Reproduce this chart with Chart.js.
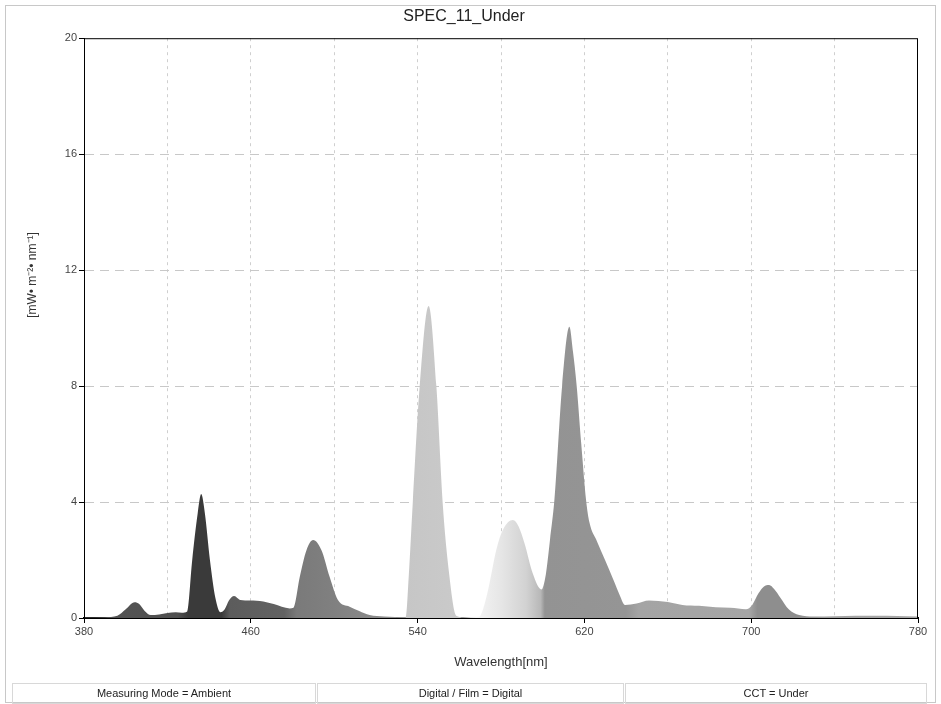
<!DOCTYPE html>
<html>
<head>
<meta charset="utf-8">
<script src="https://cdn.jsdelivr.net/npm/chart.js@4.4.1/dist/chart.umd.min.js"></script>
<style>
  body { margin: 0; background: #fff; }
  #wrap { position: relative; width: 941px; height: 704px; }
  .foot {
    position: absolute; top: 683px; height: 19px;
    font: 11px "Liberation Sans", Arial, sans-serif; line-height: 19px;
    border: 1px solid #d8d8d8; text-align: center; color: #222;
  }
</style>
</head>
<body>
<div id="wrap">
  <canvas id="spectrum" width="941" height="704"></canvas>
  <div class="foot" style="left:12px;width:302px">Measuring Mode = Ambient</div>
  <div class="foot" style="left:317px;width:305px">Digital / Film = Digital</div>
  <div class="foot" style="left:625px;width:300px">CCT = Under</div>
</div>
<script>
// spectrum (wavelength nm, irradiance mW/m2/nm)
const wavelengths = [380, 390, 396, 400, 404.3, 406.5, 409, 412, 416, 420, 424, 427, 429.5, 431.9, 434.5, 436.2, 438, 440.4, 443, 445.5,
  447.5, 449.5, 452, 455, 459.5, 466, 471, 478.7, 480.5, 483.5, 486.7, 489.9, 493.9, 497.8, 501.8, 507.4, 512, 517, 524, 534.3,
  535.8, 537.7, 541, 545.3, 549, 552, 555, 558.5, 562, 569.5, 572, 574.5, 577.7, 581, 585.7, 588.5, 591.3, 595.2, 599.4, 601.5,
  603.5, 605.6, 609.3, 612.8, 614.5, 616.3, 618.5, 620.8, 622.4, 626, 630, 634, 637, 639.5, 645, 651, 660, 667, 675, 683,
  690, 697.5, 700.5, 703.5, 706, 708.6, 711, 714, 718, 723, 730, 740, 750, 760, 770, 780];
const irradiance = [0.02, 0.03, 0.08, 0.3, 0.54, 0.48, 0.25, 0.1, 0.12, 0.17, 0.2, 0.18, 0.22, 2.0, 3.6, 4.28, 3.6, 2.0, 0.7, 0.2,
  0.3, 0.6, 0.76, 0.62, 0.6, 0.57, 0.48, 0.33, 0.35, 1.42, 2.34, 2.69, 2.34, 1.42, 0.62, 0.39, 0.24, 0.1, 0.05, 0.03,
  1.5, 4.0, 8.0, 10.76, 8.0, 4.0, 1.6, 0.08, 0.03, 0.04, 0.45, 1.2, 2.34, 3.05, 3.38, 3.15, 2.57, 1.54, 0.98, 1.5,
  2.7, 4.07, 8.0, 10.05, 9.2, 8.0, 6.0, 4.07, 3.3, 2.65, 1.98, 1.3, 0.78, 0.45, 0.5, 0.6, 0.55, 0.45, 0.42, 0.37,
  0.35, 0.3, 0.45, 0.85, 1.08, 1.14, 1.0, 0.7, 0.3, 0.1, 0.05, 0.06, 0.08, 0.08, 0.07, 0.05];

const xTickLabels = [380, 460, 540, 620, 700, 780];
const yTickLabels = [0, 4, 8, 12, 16, 20];

// grey shade of the fill along the wavelength axis
const shadeNm = [380, 425, 430, 446, 450, 476, 482, 500, 530, 534, 560, 568, 580, 592, 599, 601, 640, 646, 699, 703, 722, 735, 780];
const shadeGrey = ['#555555', '#505050', '#3a3a3a', '#3a3a3a', '#5c5c5c', '#626262', '#7a7a7a', '#808080', '#909090', '#c6c6c6',
  '#cacaca', '#f4f4f4', '#e6e6e6', '#d2d2d2', '#b8b8b8', '#939393', '#959595', '#a4a4a4', '#a6a6a6', '#8e8e8e', '#8e8e8e', '#a2a2a2', '#a8a8a8'];

const points = wavelengths.map((w, i) => ({ x: w, y: irradiance[i] }));

function spectrumFill(context) {
    const chart = context.chart;
    if (!chart.chartArea) return '#888';
    const x = chart.scales.x;
    const x0 = x.getPixelForValue(380), x1 = x.getPixelForValue(780);
    const g = chart.ctx.createLinearGradient(x0, 0, x1, 0);
    shadeNm.forEach((nm, i) => g.addColorStop((nm - 380) / 400, shadeGrey[i]));
    return g;
}

const framePlugin = {
    id: 'frame',
    afterDraw(chart) {
        const ctx = chart.ctx;
        const a = chart.chartArea;
        ctx.save();
        ctx.strokeStyle = '#000';
        ctx.lineWidth = 1;
        ctx.strokeRect(a.left + 0.5, a.top + 0.5, a.right - a.left - 1, a.bottom - a.top);
        // outer frame
        ctx.strokeStyle = '#c8c8c8';
        ctx.strokeRect(5.5, 5.5, 930, 697);
        // y axis title
        ctx.translate(33, 275);
        ctx.rotate(-Math.PI / 2);
        ctx.fillStyle = '#333';
        ctx.font = '12px "Liberation Sans", Arial, sans-serif';
        ctx.textAlign = 'center';
        ctx.textBaseline = 'middle';
        ctx.fillText('[mW\u2022 m\u207B\u00B2\u2022 nm\u207B\u00B9]', 0, 0);
        ctx.restore();
    }
};

new Chart(document.getElementById('spectrum'), {
    type: 'line',
    data: {
        datasets: [{
            data: points,
            fill: 'origin',
            backgroundColor: spectrumFill,
            borderWidth: 0,
            pointRadius: 0,
            cubicInterpolationMode: 'monotone'
        }]
    },
    options: {
        responsive: false,
        animation: false,
        layout: { padding: { left: 10, right: 23, top: 0, bottom: 30 } },
        plugins: {
            legend: { display: false },
            tooltip: { enabled: false },
            title: {
                display: true,
                text: 'SPEC_11_Under',
                color: '#222',
                font: { family: '"Liberation Sans", Arial, sans-serif', size: 16, weight: 'normal' },
                padding: { top: 7, bottom: 12 }
            }
        },
        scales: {
            x: {
                type: 'linear',
                min: 380,
                max: 780,
                afterFit: s => { s.height = 56; },
                ticks: {
                    stepSize: 40,
                    autoSkip: false,
                    maxRotation: 0,
                    padding: 2,
                    color: '#444',
                    font: { family: '"Liberation Sans", Arial, sans-serif', size: 11 },
                    callback: v => xTickLabels.includes(v) ? String(v) : ''
                },
                grid: {
                    color: c => (c.tick && (c.tick.value === 380 || c.tick.value === 780)) ? 'transparent' : '#cfcfcf',
                    tickColor: c => (c.tick && xTickLabels.includes(c.tick.value)) ? '#000' : 'transparent',
                    tickLength: 5,
                    tickBorderDash: []
                },
                border: { display: true, color: '#000', width: 2, dash: [3, 4] },
                title: {
                    display: true,
                    text: 'Wavelength[nm]',
                    color: '#333',
                    font: { family: '"Liberation Sans", Arial, sans-serif', size: 13 },
                    padding: { top: 0, bottom: 4 }
                }
            },
            y: {
                min: 0,
                max: 20,
                afterFit: s => { s.width = 74; },
                ticks: {
                    stepSize: 4,
                    padding: 2,
                    color: '#444',
                    font: { family: '"Liberation Sans", Arial, sans-serif', size: 11 },
                    callback: v => yTickLabels.includes(v) ? String(v) : ''
                },
                grid: {
                    color: c => (c.tick && (c.tick.value === 0 || c.tick.value === 20)) ? 'transparent' : '#c8c8c8',
                    tickColor: '#000',
                    tickLength: 5,
                    tickBorderDash: []
                },
                border: { display: true, color: '#000', width: 1, dash: [9, 6] }
            }
        }
    },
    plugins: [framePlugin]
});
</script>
</body>
</html>
